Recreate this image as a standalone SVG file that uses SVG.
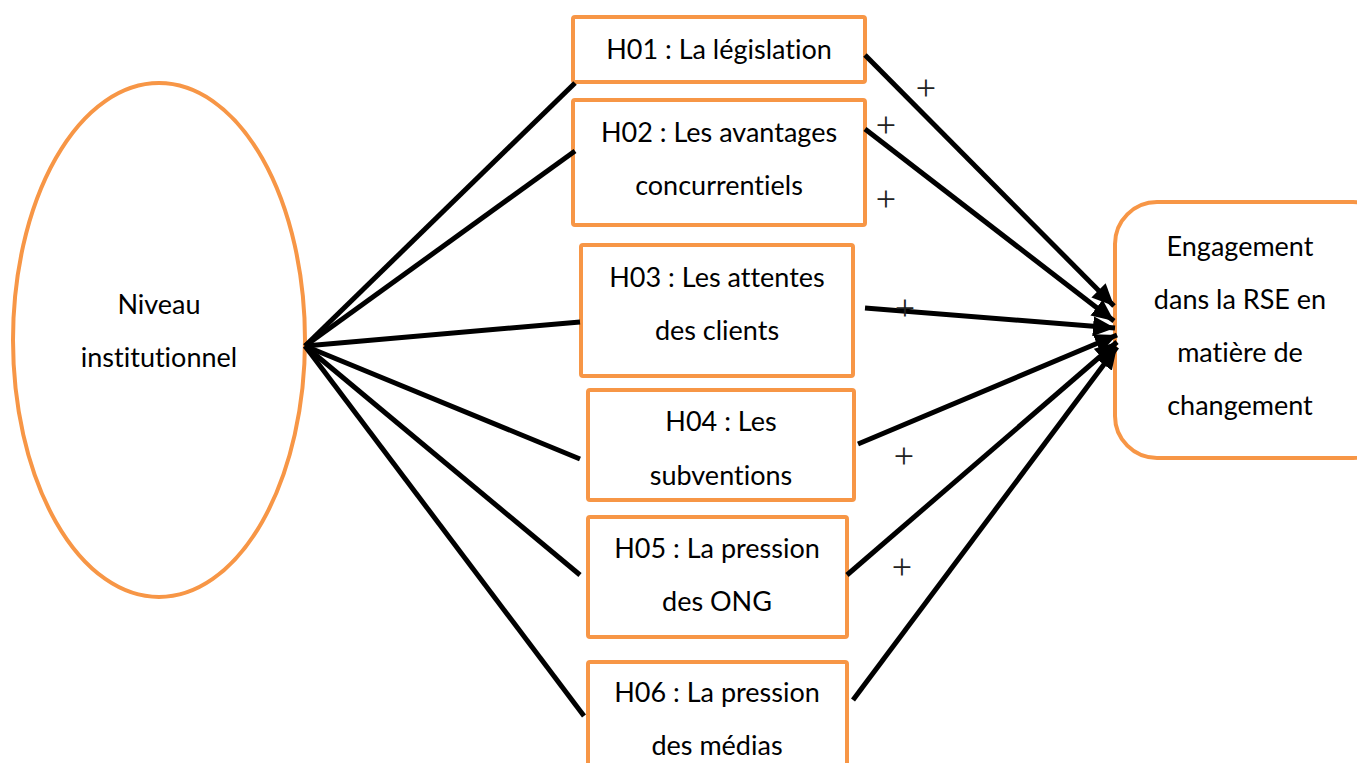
<svg xmlns="http://www.w3.org/2000/svg" width="1357" height="763" viewBox="0 0 1357 763">
<style>
.box{fill:#fff;stroke:#F79646;stroke-width:4;}
.t{font-family:Lato,"Open Sans","Liberation Sans",sans-serif;font-size:27px;fill:#000;text-anchor:middle;font-variant-ligatures:none;}
.plus{font-family:"Liberation Serif",serif;font-size:36px;fill:#222;text-anchor:middle;}
.c{stroke:#000;stroke-width:5;fill:none;stroke-linecap:butt;}
</style>
<defs>
<marker id="ah" markerUnits="userSpaceOnUse" markerWidth="24" markerHeight="20" refX="22" refY="10" orient="auto">
<path d="M0,0 L22,10 L0,20 Z" fill="#000"/>
</marker>
</defs>
<rect width="1357" height="763" fill="#fff"/>
<g id="n-niveau">
<ellipse cx="159" cy="340" rx="146" ry="257" fill="#fff" stroke="#F79646" stroke-width="4"/>
<text class="t" x="159" y="314">Niveau</text>
<text class="t" x="159" y="367">institutionnel</text>
</g>
<g id="n-h01">
<rect class="box" x="573" y="17" width="292" height="65" rx="2"/>
<text class="t" x="719" y="59">H01 : La législation</text>
</g>
<g id="n-h02">
<rect class="box" x="573" y="100" width="292" height="125" rx="2"/>
<text class="t" x="719" y="142">H02 : Les avantages</text>
<text class="t" x="719" y="195">concurrentiels</text>
</g>
<g id="n-h03">
<rect class="box" x="581" y="245" width="272" height="131" rx="2"/>
<text class="t" x="717" y="287">H03 : Les attentes</text>
<text class="t" x="717" y="340">des clients</text>
</g>
<g id="n-h04">
<rect class="box" x="588" y="390" width="266" height="110" rx="2"/>
<text class="t" x="721" y="431">H04 : Les</text>
<text class="t" x="721" y="485">subventions</text>
</g>
<g id="n-h05">
<rect class="box" x="588" y="517" width="259" height="120" rx="2"/>
<text class="t" x="717" y="558">H05 : La pression</text>
<text class="t" x="717" y="611">des ONG</text>
</g>
<g id="n-h06">
<rect class="box" x="588" y="662" width="259" height="130" rx="2"/>
<text class="t" x="717" y="702">H06 : La pression</text>
<text class="t" x="717" y="755">des médias</text>
</g>
<g id="n-engagement">
<rect class="box" x="1115" y="202" width="280" height="256" rx="42"/>
<text class="t" x="1240" y="256">Engagement</text>
<text class="t" x="1240" y="309">dans la RSE en</text>
<text class="t" x="1240" y="362">matière de</text>
<text class="t" x="1240" y="415">changement</text>
</g>
<g id="connectors">
<line class="c" x1="305" y1="346" x2="575" y2="83"/>
<line class="c" x1="305" y1="346" x2="575" y2="151"/>
<line class="c" x1="305" y1="346" x2="580" y2="322"/>
<line class="c" x1="305" y1="346" x2="580" y2="459"/>
<line class="c" x1="305" y1="346" x2="580" y2="575"/>
<line class="c" x1="305" y1="346" x2="584" y2="716"/>
<line class="c" x1="865" y1="55" x2="1114" y2="306" marker-end="url(#ah)"/>
<line class="c" x1="865" y1="129" x2="1114" y2="321" marker-end="url(#ah)"/>
<line class="c" x1="865" y1="308" x2="1115" y2="328" marker-end="url(#ah)"/>
<line class="c" x1="858" y1="444" x2="1117" y2="335" marker-end="url(#ah)"/>
<line class="c" x1="847" y1="575" x2="1117" y2="342" marker-end="url(#ah)"/>
<line class="c" x1="853" y1="700" x2="1117" y2="347" marker-end="url(#ah)"/>
</g>
<g id="labels">
<text class="plus" x="926" y="100">+</text>
<text class="plus" x="886" y="137">+</text>
<text class="plus" x="886" y="211">+</text>
<text class="plus" x="905" y="320">+</text>
<text class="plus" x="904" y="468">+</text>
<text class="plus" x="902" y="579">+</text>
</g>
</svg>
